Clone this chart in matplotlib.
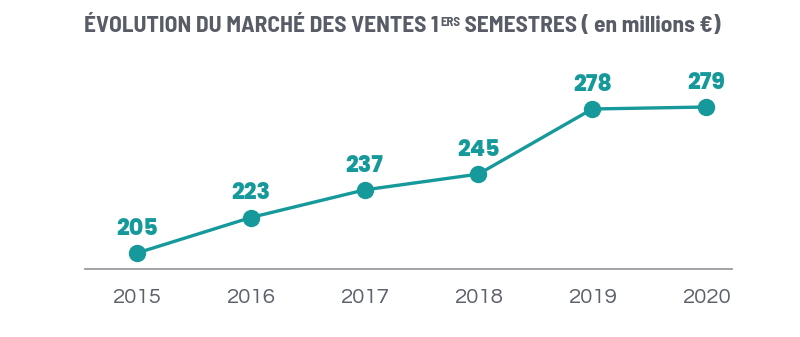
import matplotlib
matplotlib.use("Agg")
import matplotlib.pyplot as plt
from matplotlib import font_manager as fm

years = [2015, 2016, 2017, 2018, 2019, 2020]
values = [205, 223, 237, 245, 278, 279]
tick_labels = ["2015", "2016", "2017", "2018", "2019", "2020"]
title_main = "ÉVOLUTION DU MARCHÉ DES VENTES 1"
title_sup = "ERS"
title_rest = " SEMESTRES ( en millions €)"

TEAL = "#16999a"
GRAY = "#575c66"

fonts = fm.fontManager.ttflist
names = {f.name for f in fonts}


def pick(cands, default):
    for c in cands:
        if c in names:
            return c
    return default


def pick_bold(cands, default):
    for c in cands:
        ws = [int(f.weight) if str(f.weight).isdigit() else 400 for f in fonts if f.name == c]
        if any(w >= 700 for w in ws):
            return c, max(w for w in ws if w <= 800)
    return default, 700


title_family = pick(["Barlow Semi Condensed", "Roboto Condensed", "Fira Sans Condensed",
                     "Encode Sans Condensed"], "DejaVu Sans")
value_family, value_weight = pick_bold(["Poppins", "Montserrat", "Nunito", "Lato"], "DejaVu Sans")
tick_family = pick(["Questrial", "Didact Gothic", "Lato"], "DejaVu Sans")

W, H = 800, 337
fig = plt.figure(figsize=(W / 100, H / 100), dpi=100)
ax = fig.add_axes([85 / W, 1 - 269 / H, (732 - 85) / W, (269 - 50) / H])
ax.set_xlim(2014.543, 2020.228)
ax.set_ylim(196.9, 307.9)

ax.plot(years, values, color=TEAL, lw=2.4, marker="o", markersize=11.5,
        solid_capstyle="round", zorder=3, clip_on=False)
for x, v in zip(years, values):
    ax.annotate(str(v), (x, v), xytext=(0, 17), textcoords="offset points",
                ha="center", va="center", fontsize=16, fontweight=value_weight,
                color=TEAL, family=value_family)

for s in ["top", "right", "left"]:
    ax.spines[s].set_visible(False)
ax.spines["bottom"].set_color("#9a9ca3")
ax.spines["bottom"].set_linewidth(1.3)
ax.set_yticks([])
ax.set_xticks(years)
ax.set_xticklabels(tick_labels, family=tick_family, fontsize=16, color="#5c616b",
                   fontweight="normal")
ax.tick_params(axis="x", length=0, pad=14)

# title in pieces
fig.canvas.draw()
r = fig.canvas.get_renderer()
fs = 15
kw = dict(color=GRAY, fontweight="bold", family=title_family)
ty = 1 - 26 / H
t1 = fig.text(0, ty, title_main, fontsize=fs, va="center", **kw)
t2 = fig.text(0, ty + 4 / H, title_sup, fontsize=fs * 0.55, va="center", **kw)
t3 = fig.text(0, ty, title_rest, fontsize=fs, va="center", **kw)
w1 = t1.get_window_extent(r).width
w2 = t2.get_window_extent(r).width
w3 = t3.get_window_extent(r).width
total = w1 + w2 + w3
scale = 635 / total
for t in (t1, t3):
    t.set_fontsize(fs * scale)
t2.set_fontsize(fs * 0.55 * scale)
w1 = t1.get_window_extent(r).width
w2 = t2.get_window_extent(r).width
w3 = t3.get_window_extent(r).width
total = w1 + w2 + w3
x0 = 402 - total / 2
t1.set_x(x0 / W)
t2.set_x((x0 + w1 + 1) / W)
t3.set_x((x0 + w1 + w2 + 1) / W)

fig.savefig("out.png", dpi=100)
